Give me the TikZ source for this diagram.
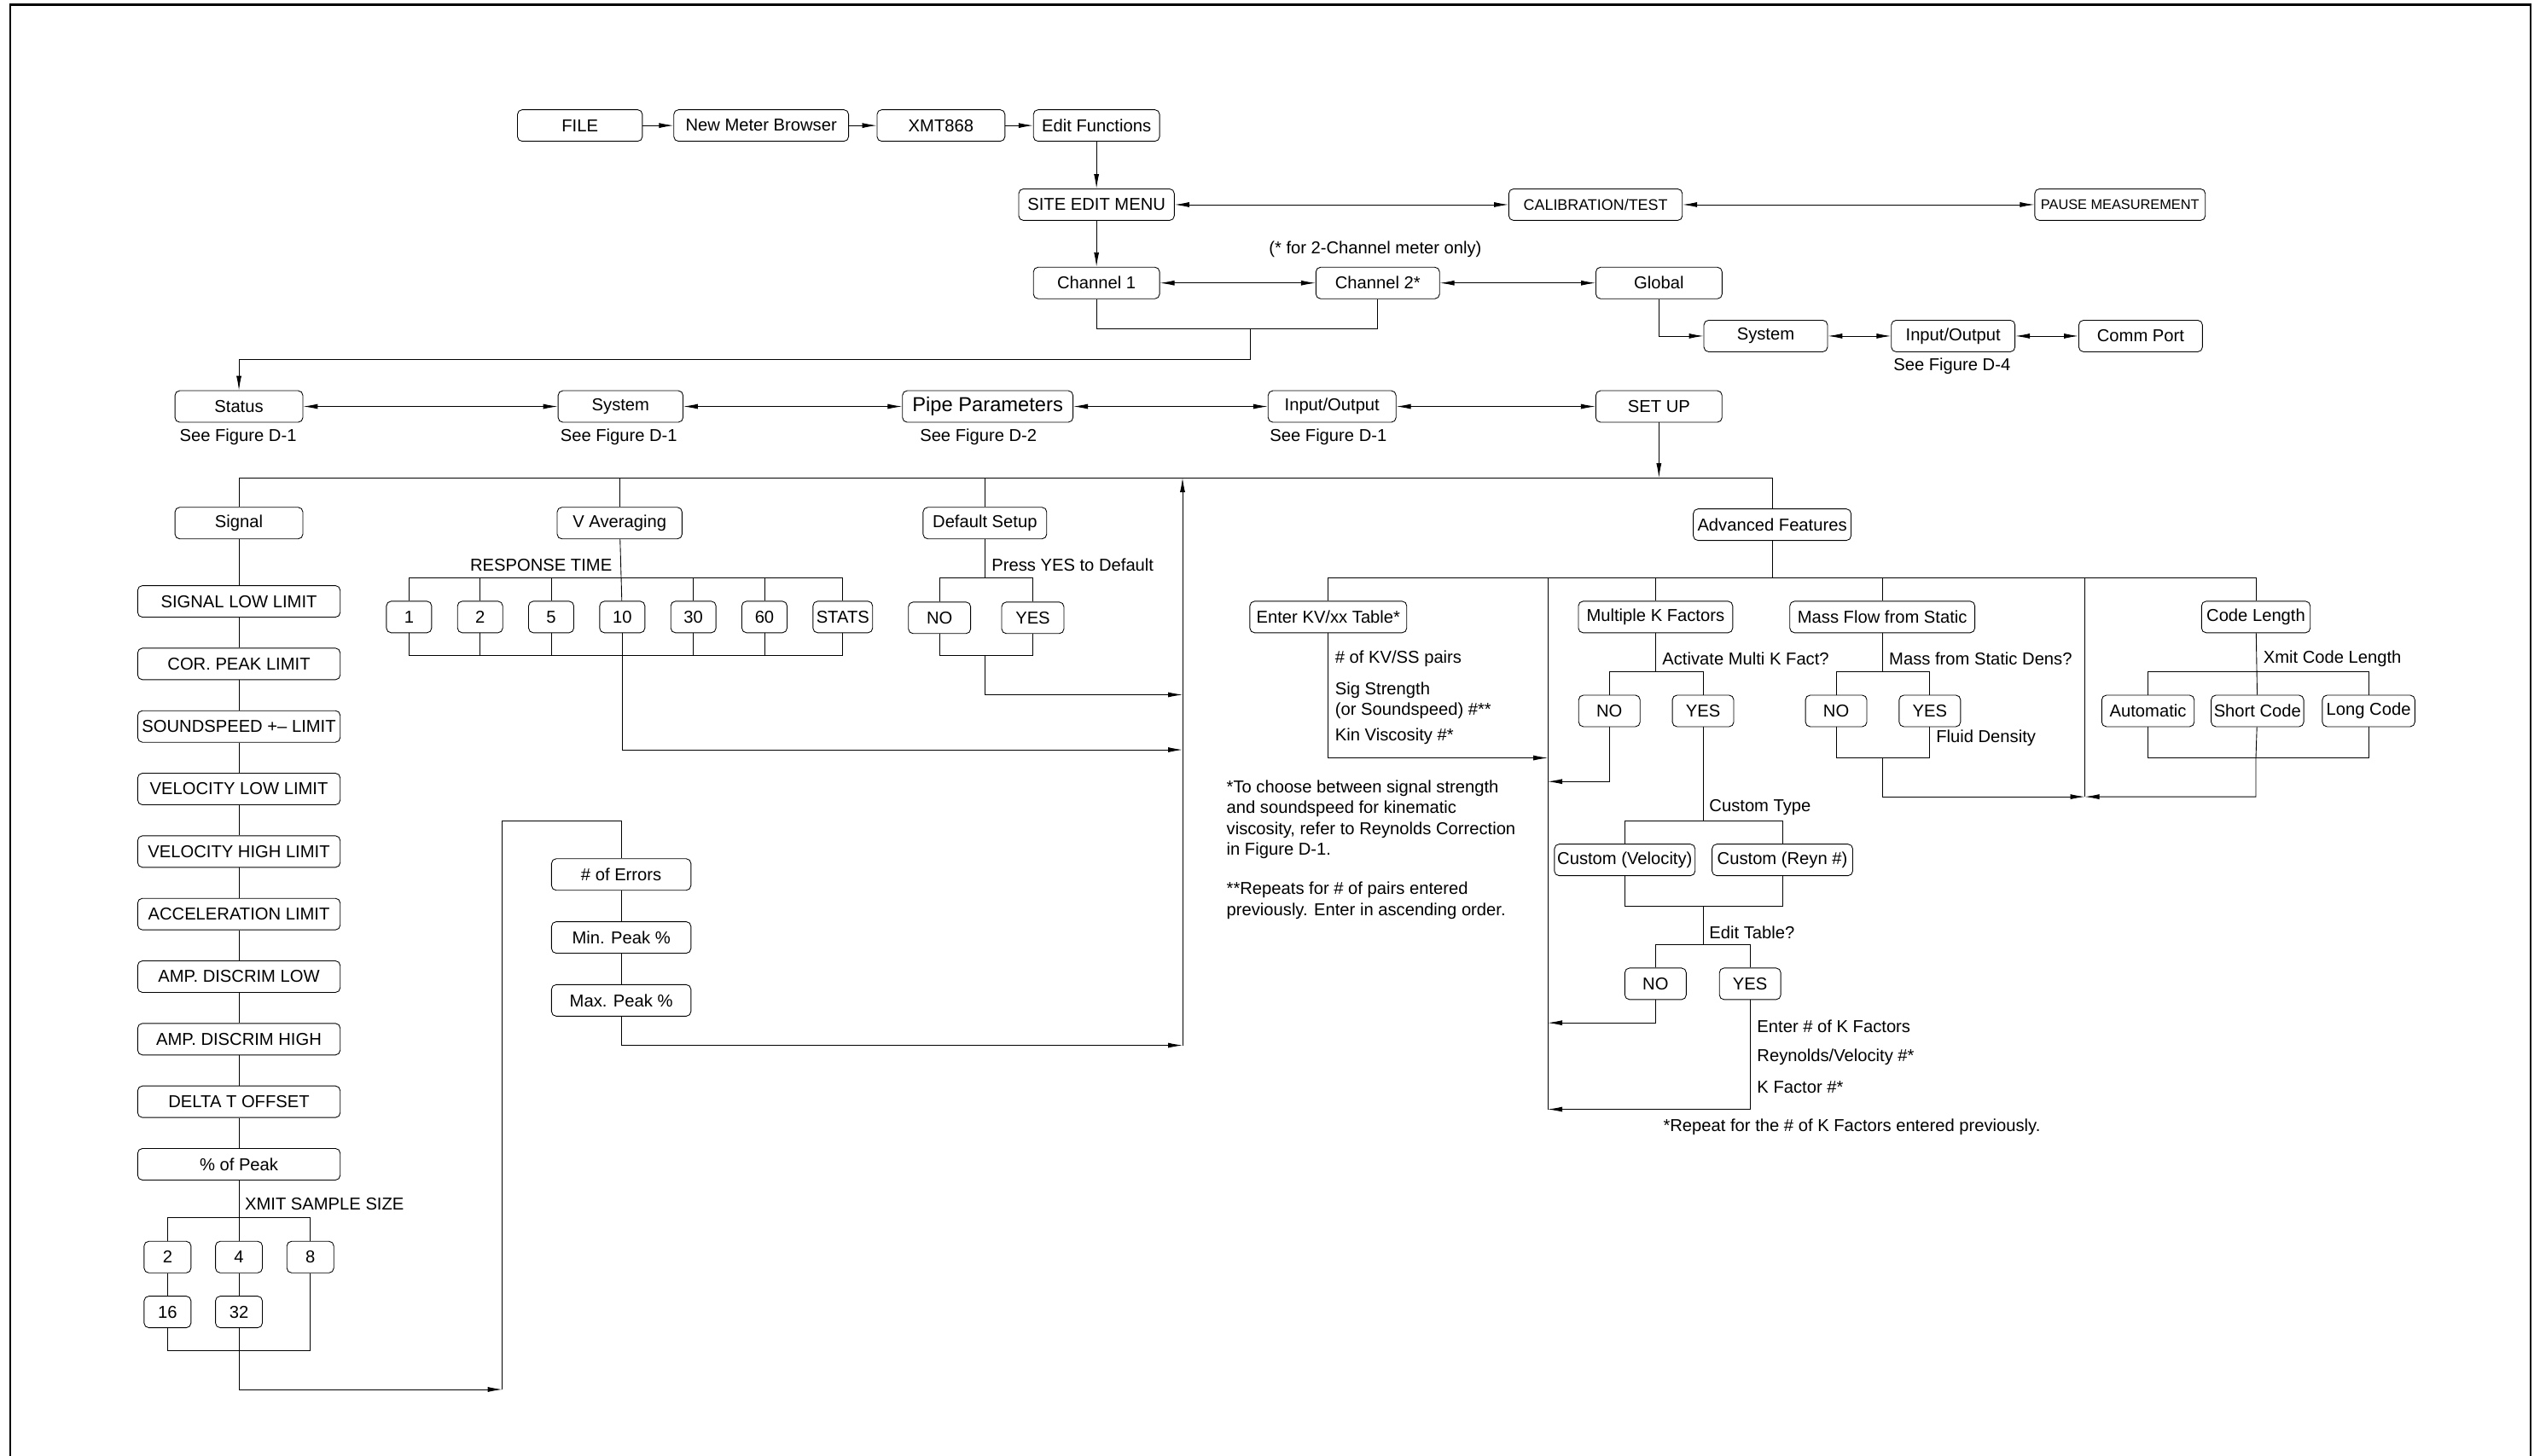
\documentclass[tikz,border=0pt]{standalone}
\usepackage{fontspec}
\setmainfont{Liberation Sans}
\usepackage{tikz}
\usetikzlibrary{positioning, arrows.meta, calc}
\newcommand{\boxfont}{\fontsize{11.5}{14}\selectfont}

\begin{document}
\begin{tikzpicture}[
      x=0.38mm, y=-0.38mm,
      line width=0.5pt,
      menu/.style={
          draw, rectangle, rounded corners=1.1mm,
          minimum height=7.4mm, inner xsep=0.5mm, inner ysep=0pt,
          align=center, font=\boxfont, line width=0.5pt
        },
      pick/.style={menu, minimum width=10.6mm},
      note/.style={inner sep=0pt, font=\boxfont, align=left},
      arrow/.style={-{Latex[length=3.4mm, width=1.2mm]}},
      dblarrow/.style={{Latex[length=3.4mm, width=1.2mm]}-{Latex[length=3.4mm, width=1.2mm]}}
    ]

    % ── Page frame ──
    \useasboundingbox (0,0) rectangle (1568,899);
    \draw[line width=0.5mm] (6.4,899) -- (6.4,3) -- (1562.3,3) -- (1562.3,899);

    % ── Menu path (top row) ──
    \node[menu, minimum width=29.3mm] (file) at (358,77.5) {FILE};
    \node[menu, minimum width=41mm, right=7.2mm of file]  (nmb)   {New Meter Browser};
    \node[menu, minimum width=30mm, right=6.5mm of nmb]   (xmt)   {XMT868};
    \node[menu, minimum width=29.6mm, right=6.5mm of xmt] (editf) {Edit Functions};

    \draw[arrow] (file) -- (nmb);
    \draw[arrow] (nmb)  -- (xmt);
    \draw[arrow] (xmt)  -- (editf);

    % ── Site edit menu ──
    \node[menu, minimum width=36.5mm, below=11mm of editf] (sem) {SITE EDIT MENU};
    \node[menu, minimum width=40.7mm, right=78.3mm of sem,
      font=\fontsize{10.2}{12}\selectfont] (cal) {CALIBRATION/TEST};
    \node[menu, minimum width=40mm, right=82.5mm of cal,
      font=\fontsize{9.3}{11}\selectfont] (pause) {PAUSE MEASUREMENT};

    \draw[arrow] (editf) -- (sem);
    \draw[dblarrow] (sem) -- (cal);
    \draw[dblarrow] (cal) -- (pause);

    % ── Channels and global ──
    \node[menu, minimum width=29.6mm, below=10.8mm of sem] (ch1)  {Channel 1};
    \node[menu, minimum width=29mm, right=36.5mm of ch1]   (ch2)  {Channel 2*};
    \node[menu, minimum width=29.6mm, right=36.5mm of ch2] (glob) {Global};
    \node[note] (chnote) at (849,154) {(* for 2-Channel meter only)};

    \draw[arrow] (sem) -- (ch1);
    \draw[dblarrow] (ch1) -- (ch2);
    \draw[dblarrow] (ch2) -- (glob);

    \node[menu, minimum width=29mm] (gsys) at (1090,207.5) {System};
    \node[menu, minimum width=29mm, right=14.8mm of gsys] (gio)  {Input/Output};
    \node[menu, minimum width=29mm, right=14.8mm of gio]  (comm) {Comm Port};
    \node[note] (gionote) at (1205,226) {See Figure D-4};

    \draw[arrow] (glob) |- (gsys);
    \draw[dblarrow] (gsys) -- (gio);
    \draw[dblarrow] (gio) -- (comm);

    % ── Channel menu row ──
    \node[menu, minimum width=30mm] (status) at (147.5,251) {Status};
    \node[menu, minimum width=29.3mm, right=59.7mm of status] (sys)   {System};
    \node[menu, minimum width=40mm, right=51.3mm of sys,
      font=\fontsize{13.5}{15}\selectfont] (pipe) {Pipe Parameters};
    \node[menu, minimum width=30mm, right=45.6mm of pipe]  (io)    {Input/Output};
    \node[menu, minimum width=29.6mm, right=46.7mm of io]  (setup) {SET UP};

    \node[note] (stnote)   at (147,270) {See Figure D-1};
    \node[note] (sysnote)  at (382,270) {See Figure D-1};
    \node[note] (pipenote) at (604,270) {See Figure D-2};
    \node[note] (ionote)   at (820,270) {See Figure D-1};

    \coordinate (chj) at (772,203);
    \coordinate (chk) at (772,222);
    \draw (ch1) |- (chj) -| (ch2);
    \draw[arrow] (chj) -- (chk) -| (status);

    \draw[dblarrow] (status) -- (sys);
    \draw[dblarrow] (sys)    -- (pipe);
    \draw[dblarrow] (pipe)   -- (io);
    \draw[dblarrow] (io)     -- (setup);

    % ── Set up branches ──
    \node[menu, minimum width=30mm]   (signal) at (147.5,323) {Signal};
    \node[menu, minimum width=29.3mm] (vavg)   at (382.5,323) {V Averaging};
    \node[menu, minimum width=29mm]   (dflt)   at (608,323)   {Default Setup};
    \node[menu, minimum width=37mm]   (adv)    at (1094,324)  {Advanced Features};

    \coordinate (bus) at (1094,295);
    \draw[arrow] (setup) -- (setup |- bus);
    \draw (signal) |- (bus) -- (adv);
    \draw (vavg) -- (vavg |- bus);
    \draw (dflt) -- (dflt |- bus);

    \coordinate (ret0) at (730,295);
    \coordinate (ret1) at (730,429);
    \coordinate (ret2) at (730,463);
    \coordinate (ret3) at (730,645.5);
    \draw[arrow] (ret3) -- (ret0);

    % ── Signal list ──
    \node[menu, minimum width=47.5mm, below=10.8mm of signal] (sl1) {SIGNAL LOW LIMIT};
    \foreach \cur/\prev/\txt in {
        sl2/sl1/COR. PEAK LIMIT,
        sl3/sl2/SOUNDSPEED +-- LIMIT,
        sl4/sl3/VELOCITY LOW LIMIT,
        sl5/sl4/VELOCITY HIGH LIMIT,
        sl6/sl5/ACCELERATION LIMIT,
        sl7/sl6/AMP. DISCRIM LOW,
        sl8/sl7/AMP. DISCRIM HIGH,
        sl9/sl8/DELTA T OFFSET,
        pk/sl9/\% of Peak}
      \node[menu, minimum width=47.5mm, below=7.1mm of \prev] (\cur) {\txt};
    \foreach \a/\b in {signal/sl1, sl1/sl2, sl2/sl3, sl3/sl4, sl4/sl5,
        sl5/sl6, sl6/sl7, sl7/sl8, sl8/sl9, sl9/pk}
      \draw (\a) -- (\b);

    % ── Xmit sample size ──
    \node[note, anchor=west] (xslbl) at (151,743.6) {XMIT SAMPLE SIZE};
    \node[pick, minimum width=11mm, below=14.2mm of pk]    (xs4)  {4};
    \node[pick, minimum width=11mm, left=5.57mm of xs4]    (xs2)  {2};
    \node[pick, minimum width=11mm, right=5.57mm of xs4]   (xs8)  {8};
    \node[pick, minimum width=11mm, below=5.3mm of xs2]    (xs16) {16};
    \node[pick, minimum width=11mm, below=5.3mm of xs4]    (xs32) {32};

    \coordinate (xsT) at ($(xs4)+(0,-24.4)$);
    \coordinate (xsB) at ($(xs32)+(0,24)$);
    \coordinate (xsOut) at (310,858);
    \coordinate (errT) at (310,507);
    \draw (pk) -- (xs4);
    \draw (xs2) |- (xsT) -| (xs8);
    \draw (xs2) -- (xs16);
    \draw (xs4) -- (xs32);
    \draw (xs16) |- (xsB) -| (xs8);
    \draw (xs32) -- (xsB);
    \draw[arrow] (xsB) |- (xsOut);

    % ── Error limits ──
    \node[menu, minimum width=32.7mm] (errs) at (383.5,540) {\# of Errors};
    \node[menu, minimum width=32.7mm, below=7.2mm of errs]  (minpk) {Min. Peak \%};
    \node[menu, minimum width=32.7mm, below=7.2mm of minpk] (maxpk) {Max. Peak \%};

    \draw (xsOut) -- (errT) -| (errs);
    \draw (errs) -- (minpk);
    \draw (minpk) -- (maxpk);
    \draw[arrow] (maxpk) |- (ret3);

    % ── Response time ──
    \node[note, anchor=east] (rtlbl) at (378,349) {RESPONSE TIME};
    \node[pick] (rt1) at (252.5,381) {1};
    \node[pick, right=5.9mm of rt1]  (rt2)  {2};
    \node[pick, right=5.9mm of rt2]  (rt5)  {5};
    \node[pick, right=5.9mm of rt5]  (rt10) {10};
    \node[pick, right=5.9mm of rt10] (rt30) {30};
    \node[pick, right=5.9mm of rt30] (rt60) {60};
    \node[pick, minimum width=14mm, right=5.9mm of rt60] (rtstats) {STATS};

    \coordinate (rtT) at ($(rt10)+(0,-24)$);
    \coordinate (rtB) at ($(rt10)+(0,24)$);
    \draw (vavg) -- (rt10);
    \draw (rt1) |- (rtT) -| (rtstats);
    \draw (rt1) |- (rtB) -| (rtstats);
    \foreach \n in {2,5,30,60} {
      \draw (rt\n) -- (rt\n |- rtT);
      \draw (rt\n) -- (rt\n |- rtB);
    }
    \draw[arrow] (rt10) -- (rtB) |- (ret2);

    % ── Default setup ──
    \node[note, anchor=west] (dflbl) at (612,349) {Press YES to Default};
    \node[pick, minimum width=14.6mm] (dfno) at (580,381.5) {NO};
    \node[pick, minimum width=14.6mm, right=7.1mm of dfno] (dfyes) {YES};

    \coordinate (dfT) at ($(dflt)+(0,34)$);
    \coordinate (dfB) at ($(dflt)+(0,82)$);
    \draw (dflt) -- (dfT);
    \draw (dfno) |- (dfT) -| (dfyes);
    \draw (dfno) |- (dfB) -| (dfyes);
    \draw[arrow] (dfB) |- (ret1);

    % ── Advanced features ──
    \node[menu, minimum width=36.8mm] (kv)  at (820,381)    {Enter KV/xx Table*};
    \node[menu, minimum width=36.2mm] (mkf) at (1022,381)   {Multiple K Factors};
    \node[menu, minimum width=43.4mm] (mfs) at (1162,381)   {Mass Flow from Static};
    \node[menu, minimum width=25.5mm] (cl)  at (1392.6,381) {Code Length};

    \coordinate (abus) at ($(adv)+(0,33)$);
    \draw (adv) -- (abus);
    \draw (kv) |- (abus) -| (cl);
    \draw (mkf) -- (mkf |- abus);
    \draw (mfs) -- (mfs |- abus);

    \coordinate (kvT)   at (955.5,357);
    \coordinate (kvIn)  at (955.5,468);
    \coordinate (mkOut) at (955.5,482.6);
    \coordinate (edOut) at (955.5,631.6);
    \coordinate (kvB)   at (955.5,685);
    \draw (kvT) -- (kvB);

    % KV table entries
    \node[note, anchor=west] (kvl1) at (824,407)   {\# of KV/SS pairs};
    \node[note, anchor=west] (kvl2) at (824,432.6) {Sig Strength\\(or Soundspeed) \#**};
    \node[note, anchor=west] (kvl3) at (824,454.7) {Kin Viscosity \#*};
    \draw[arrow] (kv) |- (kvIn);

    % Multiple K factors
    \node[note, anchor=west] (mklbl) at (1026,407) {Activate Multi K Fact?};
    \node[pick, minimum width=14.4mm] (mkno) at (993.5,439) {NO};
    \node[pick, minimum width=14.4mm, right=7.4mm of mkno] (mkyes) {YES};

    \coordinate (mkT) at ($(mkf)+(0,34)$);
    \draw (mkf) -- (mkT);
    \draw (mkno) |- (mkT) -| (mkyes);
    \draw[arrow] (mkno) |- (mkOut);

    \node[note, anchor=west] (ctlbl) at (1055,498.7) {Custom Type};
    \node[menu, minimum width=33mm] (cvel) at (1003,531) {Custom (Velocity)};
    \node[menu, minimum width=33mm, right=3.8mm of cvel] (creyn) {Custom (Reyn \#)};

    \coordinate (ctT) at ($(mkyes)+(0,68)$);
    \coordinate (ctB) at ($(ctT)+(0,52.5)$);
    \coordinate (edT) at ($(ctT)+(0,76.5)$);
    \draw (mkyes) -- (ctT);
    \draw (cvel) |- (ctT) -| (creyn);
    \draw (cvel) |- (ctB) -| (creyn);
    \draw (ctB) -- (edT);

    \node[note, anchor=west] (edlbl) at (1055,576) {Edit Table?};
    \node[pick, minimum width=14.4mm] (edno) at (1022,607.5) {NO};
    \node[pick, minimum width=14.4mm, right=7.6mm of edno] (edyes) {YES};

    \draw (edno) |- (edT) -| (edyes);
    \draw[arrow] (edno) |- (edOut);
    \draw[arrow] (edyes) |- (kvB);

    \node[note, anchor=west] (kfl1) at (1084.5,633.8) {Enter \# of K Factors};
    \node[note, anchor=west] (kfl2) at (1084.5,652.6) {Reynolds/Velocity \#*};
    \node[note, anchor=west] (kfl3) at (1084.5,671.6) {K Factor \#*};
    \node[note, anchor=west] (kfnote) at (1026.6,696)
      {*Repeat for the \# of K Factors entered previously.};

    % Mass flow from static
    \node[note, anchor=west] (mflbl) at (1166,407) {Mass from Static Dens?};
    \node[pick, minimum width=14.4mm] (mfno) at (1133.5,439) {NO};
    \node[pick, minimum width=14.4mm, right=7.4mm of mfno] (mfyes) {YES};
    \node[note, anchor=west] (fdlbl) at (1195,455.6) {Fluid Density};

    \coordinate (cdT)  at (1287,357);
    \coordinate (cdIn) at (1287,492);
    \draw (cdT) -- (cdIn);

    \coordinate (mfT) at ($(mfs)+(0,34)$);
    \coordinate (mfB) at ($(mfs)+(0,87)$);
    \draw (mfs) -- (mfT);
    \draw (mfno) |- (mfT) -| (mfyes);
    \draw (mfno) |- (mfB) -| (mfyes);
    \draw[arrow] (mfB) |- (cdIn);

    % Code length
    \node[note, anchor=west] (cllbl) at (1397,407) {Xmit Code Length};
    \node[pick, minimum width=21.7mm] (clauto) at (1326,439) {Automatic};
    \node[pick, minimum width=21.7mm, right=3.8mm of clauto]  (clshort) {Short Code};
    \node[pick, minimum width=21.7mm, right=4.2mm of clshort] (cllong)  {Long Code};

    \coordinate (clT) at ($(cl)+(0,34)$);
    \coordinate (clB) at ($(cl)+(0,87)$);
    \draw (cl) -- (clshort);
    \draw (clauto) |- (clT) -| (cllong);
    \draw (clauto) |- (clB) -| (cllong);
    \draw[arrow] (clshort) -- (clB) |- (cdIn);

    % ── Footnotes ──
    \node[note, anchor=west] (fn1) at (757,506)
      {*To choose between signal strength\\and soundspeed for kinematic\\viscosity, refer to Reynolds Correction\\in Figure D-1.};
    \node[note, anchor=west] (fn2) at (757,556)
      {**Repeats for \# of pairs entered\\previously. Enter in ascending order.};

  \end{tikzpicture}
\end{document}
